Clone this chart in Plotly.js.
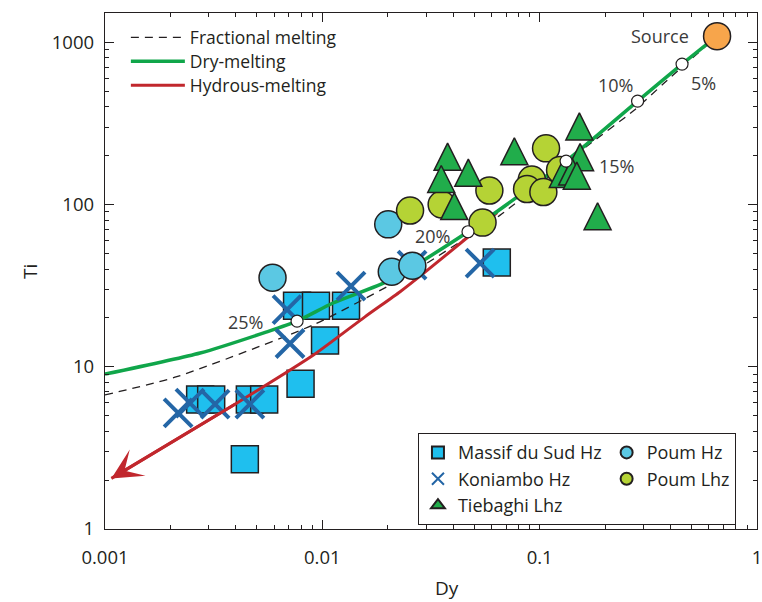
<!DOCTYPE html>
<html><head><meta charset="utf-8">
<script src="https://cdn.plot.ly/plotly-3.0.1.min.js"></script>
<style>html,body{margin:0;padding:0;background:#fff;} #chart{width:762px;height:602px;}</style>
</head><body><div id="chart"></div>
<script>
// ---------------- data (Dy, Ti) ----------------
const massifDy = [0.00274, 0.00308, 0.00464, 0.0054, 0.0044, 0.00794, 0.00765, 0.00935, 0.01285, 0.01029, 0.0635];
const massifTi = [6.28, 6.28, 6.28, 6.28, 2.69, 7.85, 23.8, 23.8, 23.8, 14.5, 43.9];

const konDy = [0.00217, 0.00246, 0.00321, 0.00464, 0.00688, 0.0071, 0.01355, 0.02588, 0.0532];
const konTi = [5.19, 5.97, 5.89, 5.89, 22.5, 13.9, 31.4, 42.3, 43.5];

const tieDy = [0.0377, 0.04696, 0.03524, 0.04046, 0.07648, 0.1523, 0.1534, 0.1278, 0.141, 0.1482, 0.1847];
const tieTi = [184.9, 147.3, 134.7, 91.7, 199.6, 283.8, 183.5, 144.6, 149.6, 141.1, 79.4];

const poumHzDy = [0.0059, 0.0201, 0.02087, 0.02595];
const poumHzTi = [35.4, 75.4, 38.5, 41.9];

const poumLhzDy = [0.02533, 0.0354, 0.0587, 0.0546, 0.107, 0.092, 0.0875, 0.104, 0.1241];
const poumLhzTi = [91.7, 99.9, 121.8, 77.3, 221.7, 142.3, 124.4, 119.2, 162.9];

const fracDy = [0.001, 0.00214, 0.00907, 0.0205, 0.0302, 0.0658, 0.1637, 0.273, 0.374, 0.655];
const fracTi = [6.7, 8.68, 18.1, 31.9, 43.4, 86, 227, 382, 560, 1090];

const dryDy = [0.001, 0.00274, 0.00555, 0.00765, 0.0112, 0.0205, 0.0468, 0.1323, 0.2822, 0.452, 0.655];
const dryTi = [9.0, 12.15, 16.4, 19.1, 24.7, 34.2, 67.9, 185, 433, 733, 1090];

const hydDy = [0.00107, 0.00403, 0.0091, 0.0157, 0.0228, 0.0292, 0.0468, 0.0637];
const hydTi = [2.05, 5.95, 11.8, 20.3, 29.0, 37.6, 63, 89];

const meltDy = [0.00765, 0.0468, 0.1323, 0.2822, 0.452];
const meltTi = [19.1, 67.9, 185, 433, 733];
const meltLabels = ['25%', '20%', '15%', '10%', '5%'];

const sourceDy = [0.655];
const sourceTi = [1090];
const sourceLabel = 'Source';

const xTickVals = [0.001, 0.01, 0.1, 1];
const xTickText = ['0.001', '0.01', '0.1', '1'];
const yTickVals = [1, 10, 100, 1000];
const yTickText = ['1', '10', '100', '1000'];

// ---------------- styling ----------------
const FONT = 'Open Sans, Lato, sans-serif';
const INK = '#231f20';
const LABEL = '#3a3a3a';
const RED = '#c1272d';

function minorVals(lo, hi) {
  const v = [];
  for (let e = lo; e < hi; e++) for (let m = 2; m <= 9; m++) v.push(m * Math.pow(10, e));
  return v;
}

const traces = [
  {x: massifDy, y: massifTi, type: 'scatter', mode: 'markers', name: 'Massif du Sud Hz',
   legend: 'legend2', legendgroup: 'a', legendrank: 1,
   marker: {symbol: 'square', size: 27, color: '#1fbfee', line: {color: INK, width: 1.5}}},
  {x: fracDy, y: fracTi, type: 'scatter', mode: 'lines', name: 'Fractional melting', legend: 'legend',
   line: {color: INK, width: 1.3, dash: '8px,6px', shape: 'spline', smoothing: 0.6}},
  {x: hydDy, y: hydTi, type: 'scatter', mode: 'lines', name: 'Hydrous-melting', legend: 'legend4',
   line: {color: RED, width: 3, shape: 'spline', smoothing: 0.6}},
  {x: dryDy, y: dryTi, type: 'scatter', mode: 'lines', name: 'Dry-melting', legend: 'legend3',
   line: {color: '#10a64a', width: 3.5, shape: 'spline', smoothing: 0.6}},
  {x: konDy, y: konTi, type: 'scatter', mode: 'markers', name: 'Koniambo Hz',
   legend: 'legend2', legendgroup: 'a', legendrank: 2,
   marker: {symbol: 'x-thin-open', size: 28, color: '#2466a6', line: {color: '#2466a6', width: 4}}},
  {x: poumHzDy, y: poumHzTi, type: 'scatter', mode: 'markers', name: 'Poum Hz',
   legend: 'legend2', legendgroup: 'b', legendrank: 4,
   marker: {symbol: 'circle', size: 27, color: '#5bc8e3', line: {color: INK, width: 1.5}}},
  {x: poumLhzDy, y: poumLhzTi, type: 'scatter', mode: 'markers', name: 'Poum Lhz',
   legend: 'legend2', legendgroup: 'b', legendrank: 5,
   marker: {symbol: 'circle', size: 27, color: '#b5d335', line: {color: INK, width: 1.5}}},
  {x: tieDy, y: tieTi, type: 'scatter', mode: 'markers', name: 'Tiebaghi Lhz', showlegend: false,
   marker: {symbol: 'arrow-down', angle: 180, standoff: 18, size: 27, color: '#21ad4b', line: {color: INK, width: 1.5}}},
  {x: [null], y: [null], type: 'scatter', mode: 'markers', name: 'Tiebaghi Lhz',
   legend: 'legend2', legendgroup: 'a', legendrank: 3,
   marker: {symbol: 'triangle-up', size: 14, color: '#21ad4b', line: {color: INK, width: 1.5}}},
  {x: meltDy, y: meltTi, type: 'scatter', mode: 'markers', showlegend: false,
   marker: {symbol: 'circle', size: 12, color: '#ffffff', line: {color: INK, width: 1.2}}},
  {x: sourceDy, y: sourceTi, type: 'scatter', mode: 'markers', showlegend: false,
   marker: {symbol: 'circle', size: 27, color: '#f7a54b', line: {color: INK, width: 1.5}}}
];

const meltShift = [[-52, -1], [-36, -4], [50, -5], [-22, 16], [21, -19]];
const annotations = meltLabels.map((t, i) => ({
  x: Math.log10(meltDy[i]), y: Math.log10(meltTi[i]), xref: 'x', yref: 'y', text: t,
  showarrow: false, xshift: meltShift[i][0], yshift: meltShift[i][1],
  font: {family: FONT, size: 18, color: LABEL}
}));
annotations.push({
  x: Math.log10(sourceDy[0]), y: Math.log10(sourceTi[0]), xref: 'x', yref: 'y', text: sourceLabel,
  showarrow: false, xshift: -57, yshift: 0, font: {family: FONT, size: 18, color: LABEL}
});
// arrowhead at the low end of the hydrous-melting curve
annotations.push({
  x: Math.log10(hydDy[0]), y: Math.log10(hydTi[0]), xref: 'x', yref: 'y',
  ax: Math.log10(hydDy[1]), ay: Math.log10(hydTi[1]), axref: 'x', ayref: 'y',
  text: '', showarrow: true, arrowhead: 3, arrowsize: 1.7, arrowwidth: 3, arrowcolor: RED
});
annotations.push({xref: 'paper', yref: 'paper', x: -0.115, y: 0.498, xanchor: 'center', yanchor: 'middle',
  text: 'Ti', textangle: -90, showarrow: false, font: {family: FONT, size: 19, color: INK}});
annotations.push({xref: 'paper', yref: 'paper', x: 0.524, y: -0.1143, xanchor: 'center', yanchor: 'middle',
  text: 'Dy', showarrow: false, font: {family: FONT, size: 19, color: INK}});

const axisCommon = {
  type: 'log', showgrid: false, zeroline: false, showline: true, linecolor: INK, linewidth: 1.2,
  mirror: 'allticks', ticks: 'inside', ticklen: 9, tickwidth: 1, tickcolor: INK,
  tickmode: 'array', ticklabeloverflow: 'allow', tickfont: {family: FONT, size: 18.5, color: INK}
};

const lineLegend = (yTop) => ({
  x: 0.032, y: yTop, xanchor: 'left', yanchor: 'top', bgcolor: 'rgba(0,0,0,0)', borderwidth: 0,
  itemwidth: 54, font: {family: FONT, size: 17.5, color: INK}
});

const layout = {
  width: 762, height: 602,
  margin: {l: 105, r: 5, t: 13, b: 73, autoexpand: false},
  paper_bgcolor: '#ffffff', plot_bgcolor: '#ffffff',
  font: {family: FONT, size: 17, color: INK},
  showlegend: true,
  xaxis: Object.assign({}, axisCommon, {
    range: [-3, 0], tickvals: xTickVals, ticktext: xTickText, ticklabelstandoff: 12,
    minor: {tickmode: 'array', tickvals: minorVals(-3, 0), ticks: 'inside', ticklen: 4, tickwidth: 1, tickcolor: INK, showgrid: false}
  }),
  yaxis: Object.assign({}, axisCommon, {
    range: [0, 3.18], tickvals: yTickVals, ticktext: yTickText, ticklabelstandoff: 6,
    minor: {tickmode: 'array', tickvals: minorVals(0, 4), ticks: 'inside', ticklen: 4, tickwidth: 1, tickcolor: INK, showgrid: false}
  }),
  legend: lineLegend(0.9874),
  legend3: lineLegend(0.9409),
  legend4: lineLegend(0.8944),
  legend2: {x: 0.48, y: 0.186, xanchor: 'left', yanchor: 'top', orientation: 'h', traceorder: 'grouped',
    bgcolor: '#ffffff', bordercolor: INK, borderwidth: 1.2, itemsizing: 'constant', tracegroupgap: 10,
    font: {family: FONT, size: 18, color: INK}},
  annotations: annotations
};

Plotly.newPlot('chart', traces, layout, {displayModeBar: false, staticPlot: true});
</script>
</body></html>
